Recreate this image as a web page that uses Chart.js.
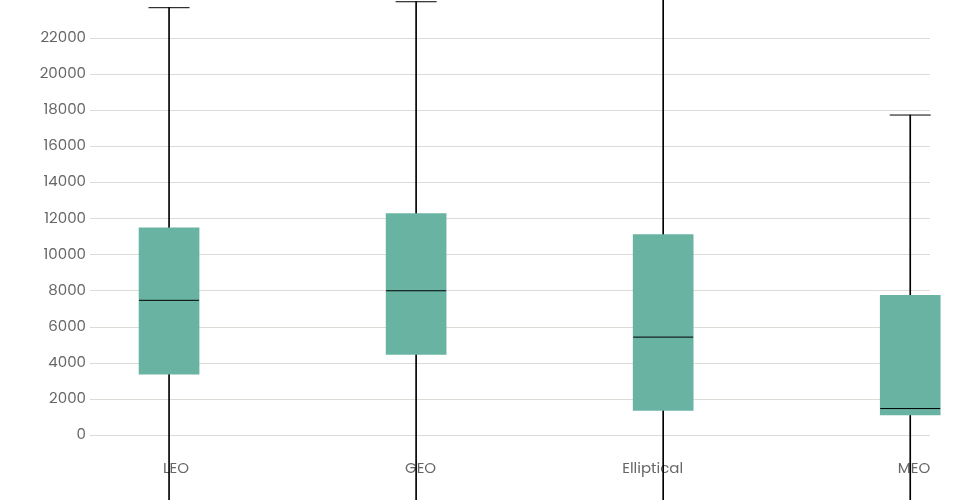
<!DOCTYPE html>
<html lang="en">
<head>
    <meta charset="UTF-8">
    <title>Box plot</title>
    <script src="https://cdn.jsdelivr.net/npm/chart.js"></script>
    <style>
        html, body { margin: 0; padding: 0; background: #ffffff; }
        #wrap { width: 960px; height: 500px; }
    </style>
</head>
<body>
    <div id="wrap"><canvas id="boxChart"></canvas></div>

    <script>
        // data
        const categories = ["LEO", "GEO", "Elliptical", "MEO"];
        const q1Values = [3390, 4480, 1370, 1130];
        const medianValues = [7480, 8010, 5440, 1480];
        const q3Values = [11500, 12290, 11130, 7760];
        const upperValues = [23700, 24030, 25780, 17750];
        const lowerValues = [-8750, -7250, -13280, -8810];
        const yTicks = [0, 2000, 4000, 6000, 8000, 10000, 12000, 14000, 16000, 18000, 20000, 22000];

        const font = { family: "Poppins, Inter, 'Open Sans', sans-serif", size: 15 };
        const textColor = "#666666";

        const idx = categories.map((c, i) => i);

        const boxes = idx.map(i => ({ x: i, y: [q1Values[i], q3Values[i]] }));
        const whiskers = idx.map(i => ({ x: i, y: [lowerValues[i], upperValues[i]] }));
        const medians = idx.map(i => ({ x: i, y: medianValues[i] }));
        const caps = idx.map(i => ({ x: i, y: upperValues[i] }))
            .concat(idx.map(i => ({ x: i, y: lowerValues[i] })));

        const ctx = document.getElementById("boxChart").getContext("2d");
        new Chart(ctx, {
            type: "bar",
            data: {
                datasets: [
                    {
                        type: "scatter",
                        label: "median",
                        data: medians,
                        pointStyle: "line",
                        radius: 30,
                        borderColor: "#000000",
                        borderWidth: 1,
                        clip: false,
                        order: 1
                    },
                    {
                        type: "bar",
                        label: "box",
                        data: boxes,
                        backgroundColor: "#69b3a2",
                        borderWidth: 0,
                        barThickness: 60,
                        grouped: false,
                        clip: false,
                        order: 2
                    },
                    {
                        type: "scatter",
                        label: "caps",
                        data: caps,
                        pointStyle: "line",
                        radius: 20.5,
                        borderColor: "#000000",
                        borderWidth: 1,
                        clip: false,
                        order: 3
                    },
                    {
                        type: "bar",
                        label: "whisker",
                        data: whiskers,
                        backgroundColor: "#000000",
                        borderWidth: 0,
                        barThickness: 1,
                        grouped: false,
                        clip: false,
                        order: 4
                    }
                ]
            },
            options: {
                responsive: true,
                maintainAspectRatio: false,
                animation: false,
                events: [],
                layout: { autoPadding: false, padding: { top: 0, right: 30, bottom: 14, left: 36 } },
                plugins: {
                    legend: { display: false },
                    tooltip: { enabled: false }
                },
                scales: {
                    x: {
                        type: "linear",
                        offset: false,
                        min: -0.32,
                        max: 3.08,
                        grid: { display: false, drawTicks: false },
                        border: { display: false },
                        afterBuildTicks: (scale) => {
                            scale.ticks = idx.map(v => ({ value: v }));
                        },
                        afterFit: (scale) => { scale.height = 34; },
                        ticks: {
                            font: font,
                            color: textColor,
                            padding: 8,
                            align: "end",
                            labelOffset: 20,
                            maxRotation: 0,
                            callback: (v) => categories[v]
                        }
                    },
                    y: {
                        type: "linear",
                        min: -928,
                        max: 23406,
                        grid: { color: "#dcdcd7", lineWidth: 1, drawTicks: false },
                        border: { display: false },
                        afterBuildTicks: (scale) => {
                            scale.ticks = yTicks.map(v => ({ value: v }));
                        },
                        afterFit: (scale) => { scale.width = 54; },
                        ticks: {
                            font: font,
                            color: textColor,
                            padding: 4,
                            callback: (v) => String(v)
                        }
                    }
                }
            }
        });
    </script>
</body>
</html>
